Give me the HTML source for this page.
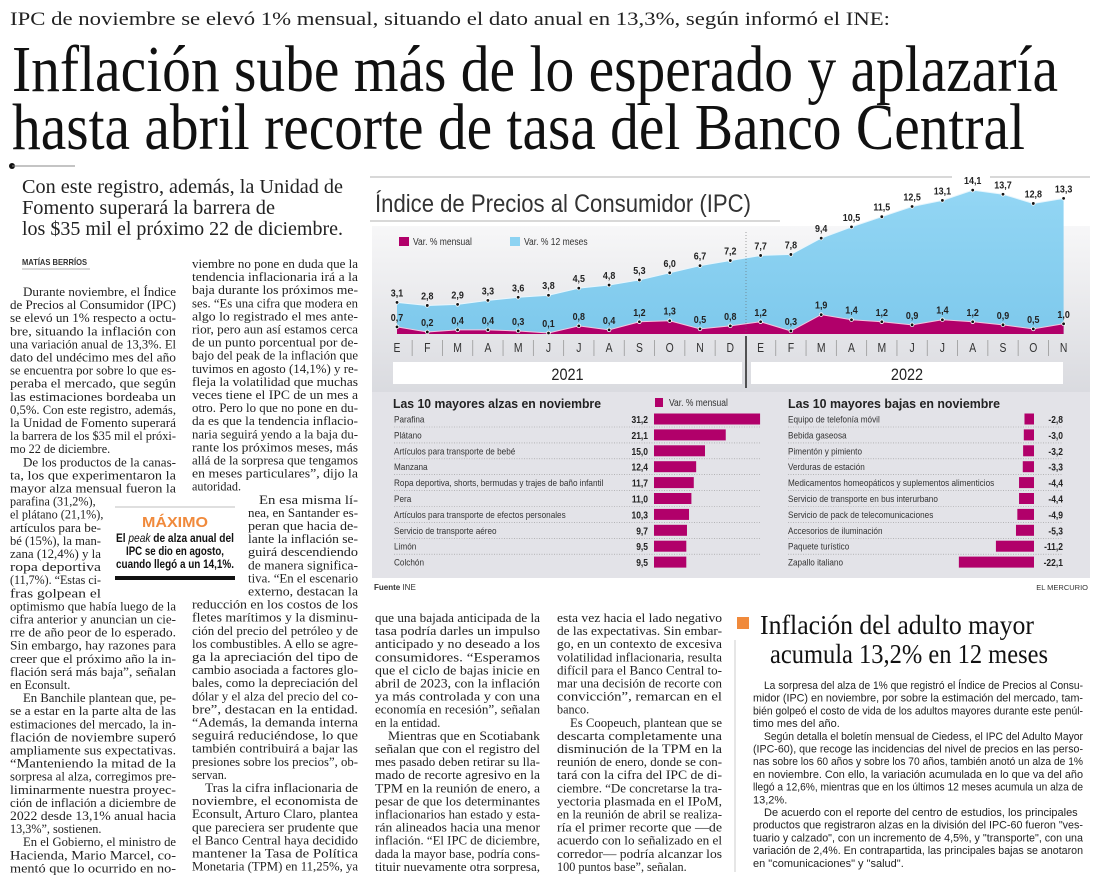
<!DOCTYPE html>
<html><head><meta charset="utf-8">
<style>
html,body{margin:0;padding:0;background:#fff;}
svg{display:block;}
.serif{font-family:"Liberation Serif",serif;}
.sans{font-family:"Liberation Sans Narrow","Liberation Sans",sans-serif;}
</style></head>
<body>
<svg id="page" width="1100" height="883" viewBox="0 0 1100 883" xmlns="http://www.w3.org/2000/svg">
<defs>
<linearGradient id="bgGrad" x1="0" y1="0" x2="0" y2="1">
<stop offset="0" stop-color="#f7f7f8"/><stop offset="1" stop-color="#d9dadf"/>
</linearGradient>
<linearGradient id="cyanGrad" x1="0" y1="0" x2="0" y2="1">
<stop offset="0" stop-color="#93d6f4"/><stop offset="1" stop-color="#7ec9ec"/>
</linearGradient>
</defs>
<text class="serif" x="10" y="25" font-size="19" textLength="880" lengthAdjust="spacingAndGlyphs" fill="#222">IPC de noviembre se elevó 1% mensual, situando el dato anual en 13,3%, según informó el INE:</text>
<text class="serif" x="12" y="91" font-size="66" textLength="1046" lengthAdjust="spacingAndGlyphs" fill="#111">Inflación sube más de lo esperado y aplazaría</text>
<text class="serif" x="12" y="149" font-size="66" textLength="1013" lengthAdjust="spacingAndGlyphs" fill="#111">hasta abril recorte de tasa del Banco Central</text>
<g><circle cx="12" cy="166" r="3" fill="#111"/><line x1="12" y1="166" x2="75" y2="166" stroke="#888" stroke-width="1"/></g>
<g class="serif" font-size="20" fill="#222">
<text x="22" y="193" textLength="321" lengthAdjust="spacingAndGlyphs">Con este registro, además, la Unidad de</text>
<text x="22" y="214" textLength="253" lengthAdjust="spacingAndGlyphs">Fomento superará la barrera de</text>
<text x="22" y="235" textLength="321" lengthAdjust="spacingAndGlyphs">los $35 mil el próximo 22 de diciembre.</text>
</g>
<text class="sans" x="22" y="265" font-size="8.5" font-weight="bold" textLength="65" lengthAdjust="spacingAndGlyphs" fill="#333">MATÍAS BERRÍOS</text>
<line x1="22" y1="269" x2="90" y2="269" stroke="#999" stroke-width="0.8"/>

<g>
<line x1="115" y1="507" x2="235" y2="507" stroke="#aaa" stroke-width="0.8"/>
<text class="sans" x="175" y="527" font-size="15" font-weight="bold" fill="#f08a3c" text-anchor="middle" textLength="66" lengthAdjust="spacingAndGlyphs">MÁXIMO</text>
<text class="sans" x="175" y="542" font-size="11.5" font-weight="bold" fill="#111" text-anchor="middle" textLength="118" lengthAdjust="spacingAndGlyphs">El <tspan font-style="italic" font-weight="normal">peak</tspan> de alza anual del</text>
<text class="sans" x="175" y="555" font-size="11.5" font-weight="bold" fill="#111" text-anchor="middle" textLength="98" lengthAdjust="spacingAndGlyphs">IPC se dio en agosto,</text>
<text class="sans" x="175" y="568" font-size="11.5" font-weight="bold" fill="#111" text-anchor="middle" textLength="118" lengthAdjust="spacingAndGlyphs">cuando llegó a un 14,1%.</text>
<rect x="115" y="576" width="120" height="4" fill="#111"/>
</g>

<line x1="370" y1="177" x2="952" y2="177" stroke="#999" stroke-width="0.8"/>
<line x1="990" y1="177" x2="1090" y2="177" stroke="#999" stroke-width="0.8"/>
<text class="sans" x="375" y="212" font-size="25" fill="#333" textLength="376" lengthAdjust="spacingAndGlyphs">Índice de Precios al Consumidor (IPC)</text>
<line x1="370" y1="221" x2="780" y2="221" stroke="#999" stroke-width="0.8"/>
<rect x="372" y="226" width="718" height="170" fill="url(#bgGrad)"/>
<rect x="372" y="392" width="718" height="186" fill="#e3e3e8"/>
<g id="ipc-chart"></g>
<g id="bars"></g>
<text class="sans" x="374" y="590" font-size="8" fill="#333"><tspan font-weight="bold">Fuente</tspan> INE</text>
<text class="sans" x="1088" y="590" font-size="7.5" fill="#333" text-anchor="end">EL MERCURIO</text>

<g>
<rect x="737" y="617" width="12" height="12" fill="#f08a3c"/>
<line x1="735" y1="640" x2="735" y2="872" stroke="#ccc" stroke-width="1"/>
<text class="serif" x="760" y="634" font-size="27" fill="#111" textLength="274" lengthAdjust="spacingAndGlyphs">Inflación del adulto mayor</text>
<text class="serif" x="770" y="663" font-size="27" fill="#111" textLength="278" lengthAdjust="spacingAndGlyphs">acumula 13,2% en 12 meses</text>
</g>
<g id="textcols"></g>
</svg>
<script>
// ---- IPC chart data ----
const months = ["E","F","M","A","M","J","J","A","S","O","N","D","E","F","M","A","M","J","J","A","S","O","N"];
const annualVar = [3.1,2.8,2.9,3.3,3.6,3.8,4.5,4.8,5.3,6.0,6.7,7.2,7.7,7.8,9.4,10.5,11.5,12.5,13.1,14.1,13.7,12.8,13.3];
const monthlyVar = [0.7,0.2,0.4,0.4,0.3,0.1,0.8,0.4,1.2,1.3,0.5,0.8,1.2,0.3,1.9,1.4,1.2,0.9,1.4,1.2,0.9,0.5,1.0];
const years = ["2021","2022"];
// ---- bar chart data ----
const riseLabels = ["Parafina","Plátano","Artículos para transporte de bebé","Manzana","Ropa deportiva, shorts, bermudas y trajes de baño infantil","Pera","Artículos para transporte de efectos personales","Servicio de transporte aéreo","Limón","Colchón"];
const riseValues = [31.2,21.1,15.0,12.4,11.7,11.0,10.3,9.7,9.5,9.5];
const fallLabels = ["Equipo de telefonía móvil","Bebida gaseosa","Pimentón y pimiento","Verduras de estación","Medicamentos homeopáticos y suplementos alimenticios","Servicio de transporte en bus interurbano","Servicio de pack de telecomunicaciones","Accesorios de iluminación","Paquete turístico","Zapallo italiano"];
const fallValues = [-2.8,-3.0,-3.2,-3.3,-4.4,-4.4,-4.9,-5.3,-11.2,-22.1];

const NS="http://www.w3.org/2000/svg";
function mk(tag, attrs, parent){const e=document.createElementNS(NS,tag);for(const k in attrs)e.setAttribute(k,attrs[k]);if(parent)parent.appendChild(e);return e;}
const fmt=v=>v.toFixed(1).replace(".",",");
function squeeze(t,f){const w=t.getComputedTextLength();if(w>0){t.setAttribute("textLength",(w*f).toFixed(1));t.setAttribute("lengthAdjust","spacingAndGlyphs");}}

(function(){
  const g=document.getElementById("ipc-chart");
  const x=i=>397+i*30.3;
  const y=v=>334-v*10.2;
  const base=334;
  let p="M"+x(0)+","+base;
  annualVar.forEach((v,i)=>p+=" L"+x(i)+","+y(v));
  p+=" L"+x(annualVar.length-1)+","+base+" Z";
  const a=mk("path",{d:p,fill:"url(#cyanGrad)"},g);
  
  
  let pl="";annualVar.forEach((v,i)=>pl+=(i?" L":"M")+x(i)+","+y(v));
  mk("path",{d:pl,fill:"none",stroke:"#e8f6fd","stroke-width":"1"},g);
  let q="M"+x(0)+","+base;
  monthlyVar.forEach((v,i)=>q+=" L"+x(i)+","+y(v));
  q+=" L"+x(monthlyVar.length-1)+","+base+" Z";
  const m=mk("path",{d:q,fill:"#b1006a"},g);
  
  
  let ml="";monthlyVar.forEach((v,i)=>ml+=(i?" L":"M")+x(i)+","+y(v));
  mk("path",{d:ml,fill:"none",stroke:"#f3c6de","stroke-width":"1"},g);
  mk("line",{x1:746,y1:232,x2:746,y2:334,stroke:"#666","stroke-width":"0.6","stroke-dasharray":"1,2"},g);
  [[annualVar,"annual"],[monthlyVar,"monthly"]].forEach(([arr,nm])=>{
    arr.forEach((v,i)=>{
      const c=mk("circle",{cx:x(i),cy:y(v),r:1.8,fill:"#111",stroke:"#fff","stroke-width":"0.8"},g);
      
      
      const t=mk("text",{x:x(i),y:y(v)-6,"font-size":"10.5","font-weight":"bold","text-anchor":"middle",fill:"#222","class":"sans"},g);
      t.textContent=fmt(v);
      
      
      squeeze(t,0.85);
    });
  });
  const l1=mk("rect",{x:399,y:237,width:10,height:9,fill:"#b1006a"},g);
  
  
  const lt1=mk("text",{x:413,y:245,"font-size":"10",fill:"#333","class":"sans"},g);lt1.textContent="Var. % mensual";
  
  
  squeeze(lt1,0.85);
  const l2=mk("rect",{x:510,y:237,width:10,height:9,fill:"#8dd3f2"},g);
  
  
  const lt2=mk("text",{x:524,y:245,"font-size":"10",fill:"#333","class":"sans"},g);lt2.textContent="Var. % 12 meses";
  
  
  squeeze(lt2,0.85);
  months.forEach((mn,i)=>{
    const t=mk("text",{x:x(i),y:352,"font-size":"13",fill:"#333","text-anchor":"middle","class":"sans"},g);
    t.textContent=mn;
    
    
    squeeze(t,0.8);
    if(i>0&&i!==12) mk("line",{x1:x(i)-15.15,y1:340,x2:x(i)-15.15,y2:356,stroke:"#999","stroke-width":"0.8"},g);
  });
  mk("line",{x1:746,y1:336,x2:746,y2:388,stroke:"#222","stroke-width":"1.5"},g);
  const yb=[[393,742],[751,1063]];
  years.forEach((yr,i)=>{
    const r=mk("rect",{x:yb[i][0],y:362,width:yb[i][1]-yb[i][0],height:22,fill:"#fff"},g);
    
    
    const t=mk("text",{x:(yb[i][0]+yb[i][1])/2,y:380,"font-size":"17",fill:"#222","text-anchor":"middle","class":"sans"},g);
    t.textContent=yr;
    
    
    squeeze(t,0.85);
  });
})();

(function(){
  const g=document.getElementById("bars");
  const sc=3.4, rowY=i=>419+i*15.9;
  const h1=mk("text",{x:393,y:408,"font-size":"13","font-weight":"bold",fill:"#222","class":"sans",textLength:"208",lengthAdjust:"spacingAndGlyphs"},g);
  h1.textContent="Las 10 mayores alzas en noviembre";
  
  
  const h2=mk("text",{x:788,y:408,"font-size":"13","font-weight":"bold",fill:"#222","class":"sans",textLength:"212",lengthAdjust:"spacingAndGlyphs"},g);
  h2.textContent="Las 10 mayores bajas en noviembre";
  
  
  const ls=mk("rect",{x:655,y:398,width:8,height:9,fill:"#b1006a"},g);
  
  
  const lt=mk("text",{x:669,y:406,"font-size":"10",fill:"#333","class":"sans"},g);
  lt.textContent="Var. % mensual";
  
  
  squeeze(lt,0.85);
  riseLabels.forEach((lab,i)=>{
    const yy=rowY(i);
    const t=mk("text",{x:394,y:yy+3.5,"font-size":"9.5",fill:"#333","class":"sans"},g);t.textContent=lab;
    
    
    squeeze(t,0.86);
    const v=mk("text",{x:648,y:yy+4,"font-size":"10","font-weight":"bold",fill:"#222","text-anchor":"end","class":"sans"},g);v.textContent=fmt(riseValues[i]);
    
    
    squeeze(v,0.85);
    const b=mk("rect",{x:654,y:yy-5.5,width:riseValues[i]*sc,height:11,fill:"#b1006a"},g);
    
    
    if(i<9) mk("line",{x1:394,y1:yy+8,x2:760,y2:yy+8,stroke:"#999","stroke-width":"0.6","stroke-dasharray":"1,1.5"},g);
  });
  fallLabels.forEach((lab,i)=>{
    const yy=rowY(i);
    const t=mk("text",{x:788,y:yy+3.5,"font-size":"9.5",fill:"#333","class":"sans"},g);t.textContent=lab;
    
    
    squeeze(t,0.86);
    const v=mk("text",{x:1063,y:yy+4,"font-size":"10","font-weight":"bold",fill:"#222","text-anchor":"end","class":"sans"},g);v.textContent=fmt(fallValues[i]);
    
    
    squeeze(v,0.85);
    const w=-fallValues[i]*sc;
    const b=mk("rect",{x:1034-w,y:yy-5.5,width:w,height:11,fill:"#b1006a"},g);
    
    
    if(i<9) mk("line",{x1:788,y1:yy+8,x2:1063,y2:yy+8,stroke:"#999","stroke-width":"0.6","stroke-dasharray":"1,1.5"},g);
  });
})();

(function(){
  const g=document.getElementById("textcols");
  function block(lines,x,w,y0,lh,fs,cls,indent){
    lines.forEach((ln,i)=>{
      let s=ln, ind=0, last=false;
      if(s.startsWith(">")){s=s.slice(1);ind=indent;}
      if(s.endsWith("|")){s=s.slice(0,-1);last=true;}
      const a={x:x+ind,y:y0+i*lh,"font-size":fs,fill:"#222","class":cls};
      if(!last){a.textLength=w-ind;a.lengthAdjust="spacingAndGlyphs";}
      const t=mk("text",a,g);
      t.textContent=s;
      
      
    });
  }
  const LH=13.1, FS=12.2;
  block([">Durante noviembre, el Índice","de Precios al Consumidor (IPC)","se elevó un 1% respecto a octu-","bre, situando la inflación con","una variación anual de 13,3%. El","dato del undécimo mes del año","se encuentra por sobre lo que es-","peraba el mercado, que según","las estimaciones bordeaba un","0,5%. Con este registro, además,","la Unidad de Fomento superará","la barrera de los $35 mil el próxi-","mo 22 de diciembre.|",">De los productos de la canas-","ta, los que experimentaron la","mayor alza mensual fueron la"],10,166,296,LH,FS,"serif",13);
  block(["parafina (31,2%),|","el plátano (21,1%),|","artículos para be-","bé (15%), la man-","zana (12,4%) y la","ropa deportiva","(11,7%). “Estas ci-","fras golpean el"],10,91,296+16*LH,LH,FS,"serif",13);
  block(["optimismo que había luego de la","cifra anterior y anuncian un cie-","rre de año peor de lo esperado.","Sin embargo, hay razones para","creer que el próximo año la in-","flación será más baja”, señalan","en Econsult.|",">En Banchile plantean que, pe-","se a estar en la parte alta de las","estimaciones del mercado, la in-","flación de noviembre superó","ampliamente sus expectativas.","“Manteniendo la mitad de la","sorpresa al alza, corregimos pre-","liminarmente nuestra proyec-","ción de inflación a diciembre de","2022 desde 13,1% anual hacia","13,3%”, sostienen.|",">En el Gobierno, el ministro de","Hacienda, Mario Marcel, co-","mentó que lo ocurrido en no-"],10,166,296+24*LH,LH,FS,"serif",13);
  block(["viembre no pone en duda que la","tendencia inflacionaria irá a la","baja durante los próximos me-","ses. “Es una cifra que modera en","algo lo registrado el mes ante-","rior, pero aun así estamos cerca","de un punto porcentual por de-","bajo del peak de la inflación que","tuvimos en agosto (14,1%) y re-","fleja la volatilidad que muchas","veces tiene el IPC de un mes a","otro. Pero lo que no pone en du-","da es que la tendencia inflacio-","naria seguirá yendo a la baja du-","rante los próximos meses, más","allá de la sorpresa que tengamos","en meses particulares”, dijo la","autoridad.|"],192,166,268,LH,FS,"serif",13);
  block([">En esa misma lí-","nea, en Santander es-","peran que hacia de-","lante la inflación se-","guirá descendiendo","de manera significa-","tiva. “En el escenario","externo, destacan la"],248,110,268+18*LH,LH,FS,"serif",11);
  block(["reducción en los costos de los","fletes marítimos y la disminu-","ción del precio del petróleo y de","los combustibles. A ello se agre-","ga la apreciación del tipo de","cambio asociada a factores glo-","bales, como la depreciación del","dólar y el alza del precio del co-","bre”, destacan en la entidad.","“Además, la demanda interna","seguirá reduciéndose, lo que","también contribuirá a bajar las","presiones sobre los precios”, ob-","servan.|",">Tras la cifra inflacionaria de","noviembre, el economista de","Econsult, Arturo Claro, plantea","que pareciera ser prudente que","el Banco Central haya decidido","mantener la Tasa de Política","Monetaria (TPM) en 11,25%, ya"],192,166,268+26*LH,LH,FS,"serif",13);
  block(["que una bajada anticipada de la","tasa podría darles un impulso","anticipado y no deseado a los","consumidores. “Esperamos","que el ciclo de bajas inicie en","abril de 2023, con la inflación","ya más controlada y con una","economía en recesión”, señalan","en la entidad.|",">Mientras que en Scotiabank","señalan que con el registro del","mes pasado deben retirar su lla-","mado de recorte agresivo en la","TPM en la reunión de enero, a","pesar de que los determinantes","inflacionarios han estado y esta-","rán alineados hacia una menor","inflación. “El IPC de diciembre,","dada la mayor base, podría cons-","tituir nuevamente otra sorpresa,"],375,165,622,LH,FS,"serif",13);
  block(["esta vez hacia el lado negativo","de las expectativas. Sin embar-","go, en un contexto de excesiva","volatilidad inflacionaria, resulta","difícil para el Banco Central to-","mar una decisión de recorte con","convicción”, remarcan en el","banco.|",">Es Coopeuch, plantean que se","descarta completamente una","disminución de la TPM en la","reunión de enero, donde se con-","tará con la cifra del IPC de di-","ciembre. “De concretarse la tra-","yectoria plasmada en el IPoM,","en la reunión de abril se realiza-","ría el primer recorte que —de","acuerdo con lo señalizado en el","corredor— podría alcanzar los","100 puntos base”, señalan.|"],557,165,622,LH,FS,"serif",13);
  block([">La sorpresa del alza de 1% que registró el Índice de Precios al Consu-","midor (IPC) en noviembre, por sobre la estimación del mercado, tam-","bién golpeó el costo de vida de los adultos mayores durante este penúl-","timo mes del año.|",">Según detalla el boletín mensual de Ciedess, el IPC del Adulto Mayor","(IPC-60), que recoge las incidencias del nivel de precios en las perso-","nas sobre los 60 años y sobre los 70 años, también anotó un alza de 1%","en noviembre. Con ello, la variación acumulada en lo que va del año","llegó a 12,6%, mientras que en los últimos 12 meses acumula un alza de","13,2%.|",">De acuerdo con el reporte del centro de estudios, los principales|","productos que registraron alzas en la división del IPC-60 fueron \"ves-","tuario y calzado\", con un incremento de 4,5%, y \"transporte\", con una","variación de 2,4%. En contrapartida, las principales bajas se anotaron","en \"comunicaciones\" y \"salud\".|"],753,330,689,12.7,11,"sans",11);
})();
</script>
</body></html>
